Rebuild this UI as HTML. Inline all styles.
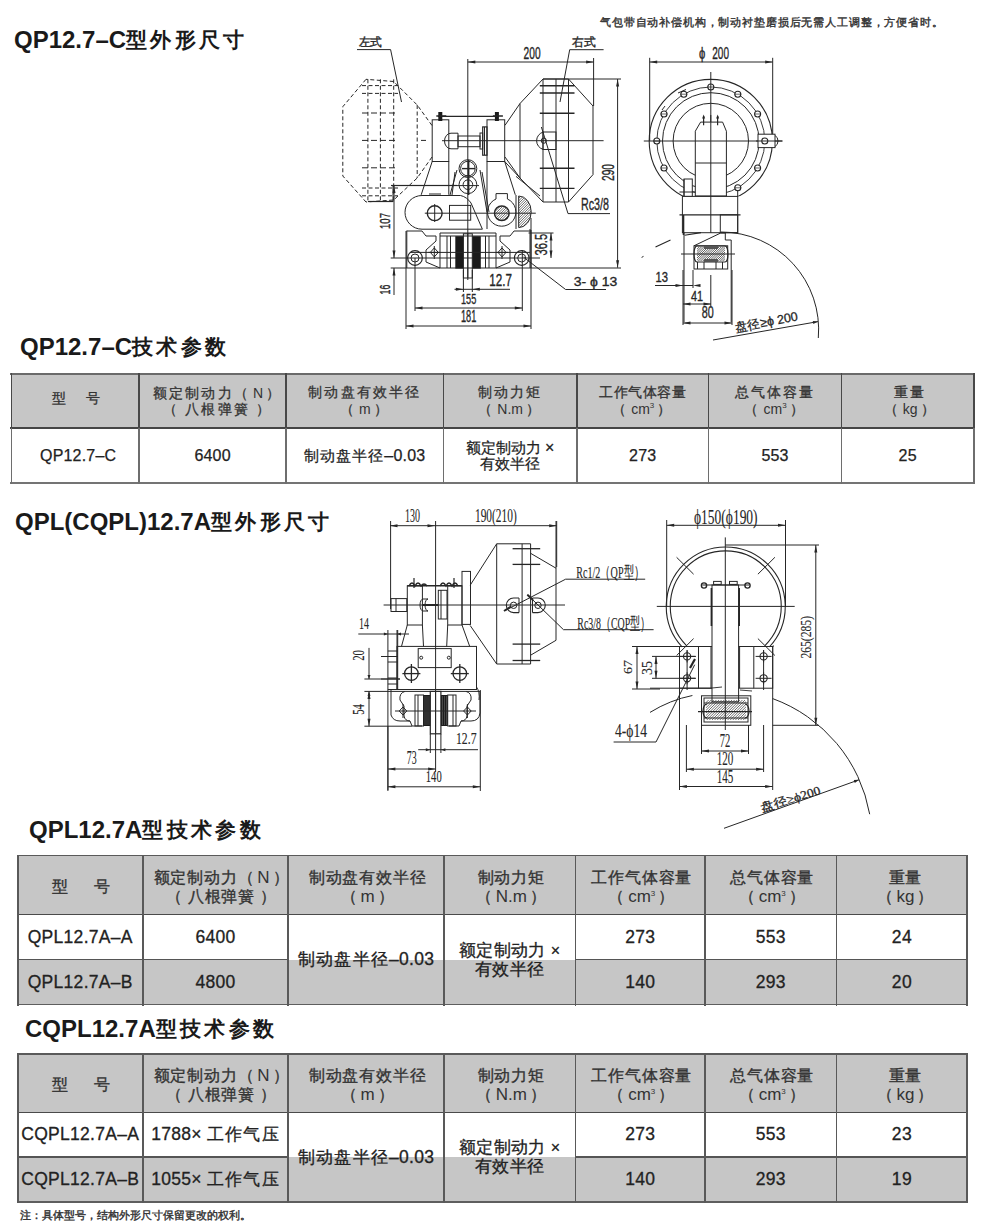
<!DOCTYPE html>
<html><head><meta charset="utf-8"><style>
html,body{margin:0;padding:0;background:#fff;width:990px;height:1228px;overflow:hidden;position:relative;font-family:"Liberation Sans",sans-serif;color:#2a2a2a}
.t{position:absolute;white-space:nowrap}
.h1{font-size:24px;font-weight:bold;color:#1a1a1a;letter-spacing:0px}
.h1 span{font-size:21px;letter-spacing:3.3px;vertical-align:1px}
.c{position:absolute;display:flex;align-items:center;justify-content:center;text-align:center;white-space:nowrap}
.ln{position:absolute;background:#646464}
.bg{position:absolute;background:#c6c6c6}
.hd1{font-size:13.5px;font-weight:500;-webkit-text-stroke:0.3px #333;letter-spacing:2.2px;color:#333;line-height:16px}
.hd2{font-size:16px;font-weight:500;-webkit-text-stroke:0.35px #333;letter-spacing:0.8px;color:#333;line-height:19px}
.d1{font-size:16px;letter-spacing:0.2px;color:#222;-webkit-text-stroke:0.25px #222;line-height:16px}
.d2{font-size:17.5px;letter-spacing:0.3px;color:#222;-webkit-text-stroke:0.3px #222;line-height:19px}
.d1 .cj{font-size:15px;letter-spacing:1px}
.d2 .cj{font-size:16.5px;letter-spacing:1.2px}
.d1 .cj2{font-size:15px;letter-spacing:0px}
.d2 .cj2{font-size:16.5px;letter-spacing:0.4px}
.xx{font-size:16px}
.hd1 .tight{letter-spacing:0.6px}
.nb{font-weight:normal;letter-spacing:0;margin:0 3px}
.hd2 .nb{font-size:17px;-webkit-text-stroke:0}
.hd1 .nb{font-size:14px;-webkit-text-stroke:0}
sup{font-size:8px;vertical-align:6px;line-height:0;letter-spacing:0}
svg{position:absolute;left:0;top:0;overflow:visible}
</style></head><body>
<svg width="990" height="1228" viewBox="0 0 990 1228" style="position:absolute;left:0;top:0"><text x="358.5" y="45.7" font-family="Liberation Sans" font-weight="normal" font-size="11.5" fill="#262626" stroke="#262626" stroke-width="0.35" textLength="23.5" lengthAdjust="spacingAndGlyphs">左式</text><line x1="357.0" y1="49.6" x2="390.6" y2="49.6" stroke="#262626" stroke-width="1"/><line x1="390.6" y1="49.6" x2="401.5" y2="102.0" stroke="#262626" stroke-width="1"/><text x="572.0" y="46.0" font-family="Liberation Sans" font-weight="normal" font-size="11.5" fill="#262626" stroke="#262626" stroke-width="0.35" textLength="23.6" lengthAdjust="spacingAndGlyphs">右式</text><line x1="569.7" y1="49.7" x2="603.6" y2="49.7" stroke="#262626" stroke-width="1"/><line x1="569.7" y1="49.7" x2="560.0" y2="102.0" stroke="#262626" stroke-width="1"/><text x="523.6" y="59.0" font-family="Liberation Sans" font-weight="normal" font-size="15.8" fill="#262626" stroke="#262626" stroke-width="0.35" textLength="17.0" lengthAdjust="spacingAndGlyphs">200</text><line x1="467.8" y1="59.0" x2="467.8" y2="280.0" stroke="#262626" stroke-width="1"/><line x1="467.8" y1="62.0" x2="593.6" y2="62.0" stroke="#262626" stroke-width="1"/><polygon points="467.8,62.0 475.3,60.5 475.3,63.5" fill="#262626"/><polygon points="593.6,62.0 586.1,63.5 586.1,60.5" fill="#262626"/><line x1="593.6" y1="58.0" x2="593.6" y2="106.0" stroke="#262626" stroke-width="1"/><text transform="translate(614.0,181.0) rotate(-90)" x="0" y="0" font-family="Liberation Sans" font-weight="normal" font-size="16.9" fill="#262626" stroke="#262626" stroke-width="0.35" textLength="17.0" lengthAdjust="spacingAndGlyphs">290</text><line x1="617.6" y1="79.0" x2="617.6" y2="267.7" stroke="#262626" stroke-width="1"/><polygon points="617.6,79.0 619.1,86.5 616.1,86.5" fill="#262626"/><polygon points="617.6,267.7 616.1,260.2 619.1,260.2" fill="#262626"/><line x1="543.0" y1="79.0" x2="621.0" y2="79.0" stroke="#262626" stroke-width="1"/><line x1="390.7" y1="268.0" x2="621.0" y2="268.0" stroke="#262626" stroke-width="1"/><text x="581.0" y="210.4" font-family="Liberation Sans" font-weight="normal" font-size="17.2" fill="#262626" stroke="#262626" stroke-width="0.35" textLength="28.0" lengthAdjust="spacingAndGlyphs">Rc3/8</text><line x1="568.0" y1="213.6" x2="610.0" y2="213.6" stroke="#262626" stroke-width="1"/><line x1="568.0" y1="213.6" x2="541.4" y2="127.0" stroke="#262626" stroke-width="1"/><text transform="translate(390.0,229.0) rotate(-90)" x="0" y="0" font-family="Liberation Sans" font-weight="normal" font-size="15.3" fill="#262626" stroke="#262626" stroke-width="0.35" textLength="16.0" lengthAdjust="spacingAndGlyphs">107</text><line x1="394.0" y1="185.4" x2="394.0" y2="258.0" stroke="#262626" stroke-width="1"/><polygon points="394.0,185.4 395.5,192.9 392.5,192.9" fill="#262626"/><polygon points="394.0,258.0 392.5,250.5 395.5,250.5" fill="#262626"/><line x1="391.0" y1="185.4" x2="457.0" y2="185.4" stroke="#262626" stroke-width="1"/><text transform="translate(390.0,294.4) rotate(-90)" x="0" y="0" font-family="Liberation Sans" font-weight="normal" font-size="15.3" fill="#262626" stroke="#262626" stroke-width="0.35" textLength="9.7" lengthAdjust="spacingAndGlyphs">16</text><line x1="394.0" y1="268.0" x2="394.0" y2="295.0" stroke="#262626" stroke-width="1"/><polygon points="394.0,268.0 395.5,275.5 392.5,275.5" fill="#262626"/><line x1="390.7" y1="258.0" x2="540.0" y2="258.0" stroke="#262626" stroke-width="1"/><text transform="translate(547.0,255.6) rotate(-90)" x="0" y="0" font-family="Liberation Sans" font-weight="normal" font-size="17.1" fill="#262626" stroke="#262626" stroke-width="0.35" textLength="21.8" lengthAdjust="spacingAndGlyphs">36.5</text><line x1="551.0" y1="233.0" x2="551.0" y2="258.0" stroke="#262626" stroke-width="1"/><polygon points="551.0,233.0 552.5,240.5 549.5,240.5" fill="#262626"/><polygon points="551.0,258.0 549.5,250.5 552.5,250.5" fill="#262626"/><line x1="528.5" y1="233.0" x2="553.5" y2="233.0" stroke="#262626" stroke-width="1"/><text x="573.7" y="286.3" font-family="Liberation Sans" font-weight="normal" font-size="13.5" fill="#262626" stroke="#262626" stroke-width="0.35" textLength="43.6" lengthAdjust="spacingAndGlyphs">3- ϕ 13</text><line x1="565.6" y1="289.5" x2="606.0" y2="289.5" stroke="#262626" stroke-width="1"/><line x1="565.6" y1="289.5" x2="523.6" y2="257.2" stroke="#262626" stroke-width="1"/><text x="489.3" y="285.5" font-family="Liberation Sans" font-weight="normal" font-size="16.0" fill="#262626" stroke="#262626" stroke-width="0.35" textLength="22.7" lengthAdjust="spacingAndGlyphs">12.7</text><line x1="454.5" y1="289.3" x2="510.0" y2="289.3" stroke="#262626" stroke-width="1"/><polygon points="463.4,289.3 455.9,290.8 455.9,287.8" fill="#262626"/><polygon points="472.3,289.3 479.8,287.8 479.8,290.8" fill="#262626"/><line x1="463.4" y1="270.0" x2="463.4" y2="292.0" stroke="#262626" stroke-width="1"/><line x1="472.3" y1="270.0" x2="472.3" y2="292.0" stroke="#262626" stroke-width="1"/><text x="461.0" y="304.0" font-family="Liberation Sans" font-weight="normal" font-size="14.7" fill="#262626" stroke="#262626" stroke-width="0.35" textLength="15.3" lengthAdjust="spacingAndGlyphs">155</text><line x1="415.0" y1="308.0" x2="522.3" y2="308.0" stroke="#262626" stroke-width="1"/><polygon points="415.0,308.0 422.5,306.5 422.5,309.5" fill="#262626"/><polygon points="522.3,308.0 514.8,309.5 514.8,306.5" fill="#262626"/><text x="461.0" y="322.0" font-family="Liberation Sans" font-weight="normal" font-size="16.1" fill="#262626" stroke="#262626" stroke-width="0.35" textLength="15.3" lengthAdjust="spacingAndGlyphs">181</text><line x1="406.0" y1="326.0" x2="531.0" y2="326.0" stroke="#262626" stroke-width="1"/><polygon points="406.0,326.0 413.5,324.5 413.5,327.5" fill="#262626"/><polygon points="531.0,326.0 523.5,327.5 523.5,324.5" fill="#262626"/><line x1="415.0" y1="258.0" x2="415.0" y2="311.0" stroke="#262626" stroke-width="1"/><line x1="522.3" y1="250.0" x2="522.3" y2="311.0" stroke="#262626" stroke-width="1"/><line x1="406.0" y1="231.0" x2="406.0" y2="329.0" stroke="#262626" stroke-width="1"/><line x1="531.0" y1="218.0" x2="531.0" y2="329.0" stroke="#262626" stroke-width="1"/><polyline points="432.0,125.5 417.2,105.0 393.7,81.5 366.0,79.3" fill="none" stroke="#262626" stroke-width="1" stroke-dasharray="4,2.5"/><polyline points="366.0,79.3 342.8,106.7 342.8,176.0 366.0,202.0" fill="none" stroke="#262626" stroke-width="1" stroke-dasharray="4,2.5"/><polyline points="432.0,157.0 417.2,178.0 393.7,200.0 366.0,202.0" fill="none" stroke="#262626" stroke-width="1" stroke-dasharray="4,2.5"/><line x1="417.2" y1="105.0" x2="417.2" y2="178.0" stroke="#262626" stroke-width="1" stroke-dasharray="4,2.5"/><line x1="367.9" y1="79.3" x2="367.9" y2="202.0" stroke="#262626" stroke-width="1" stroke-dasharray="4,2.5"/><line x1="380.4" y1="79.3" x2="380.4" y2="202.0" stroke="#262626" stroke-width="1" stroke-dasharray="4,2.5"/><line x1="393.7" y1="79.3" x2="393.7" y2="202.0" stroke="#262626" stroke-width="1" stroke-dasharray="4,2.5"/><line x1="362.0" y1="85.6" x2="398.0" y2="85.6" stroke="#262626" stroke-width="1" stroke-dasharray="4,2.5"/><line x1="362.0" y1="93.4" x2="398.0" y2="93.4" stroke="#262626" stroke-width="1" stroke-dasharray="4,2.5"/><line x1="362.0" y1="188.0" x2="398.0" y2="188.0" stroke="#262626" stroke-width="1" stroke-dasharray="4,2.5"/><line x1="362.0" y1="195.8" x2="398.0" y2="195.8" stroke="#262626" stroke-width="1" stroke-dasharray="4,2.5"/><line x1="362.0" y1="113.0" x2="398.0" y2="113.0" stroke="#262626" stroke-width="1" stroke-dasharray="6,3"/><line x1="362.0" y1="140.4" x2="398.0" y2="140.4" stroke="#262626" stroke-width="1" stroke-dasharray="6,3"/><line x1="362.0" y1="167.8" x2="398.0" y2="167.8" stroke="#262626" stroke-width="1" stroke-dasharray="6,3"/><line x1="421.0" y1="140.4" x2="426.0" y2="140.4" stroke="#262626" stroke-width="1"/><line x1="368.0" y1="201.5" x2="393.0" y2="201.5" stroke="#262626" stroke-width="1.2"/><line x1="393.0" y1="186.0" x2="393.0" y2="202.0" stroke="#262626" stroke-width="1"/><polyline points="505.0,125.3 520.0,103.5 543.0,79.0 568.5,79.0 593.0,106.0 593.0,174.6 568.5,202.0 543.0,202.0 520.0,178.0 505.0,157.0" fill="none" stroke="#262626" stroke-width="1"/><line x1="520.0" y1="103.5" x2="520.0" y2="178.0" stroke="#262626" stroke-width="1"/><line x1="543.0" y1="79.0" x2="543.0" y2="202.0" stroke="#262626" stroke-width="1"/><line x1="556.0" y1="79.0" x2="556.0" y2="202.0" stroke="#262626" stroke-width="1"/><line x1="568.5" y1="79.0" x2="568.5" y2="202.0" stroke="#262626" stroke-width="1"/><line x1="539.8" y1="85.7" x2="574.5" y2="85.7" stroke="#262626" stroke-width="1.4"/><line x1="539.8" y1="93.0" x2="574.5" y2="93.0" stroke="#262626" stroke-width="1.4"/><line x1="539.8" y1="113.2" x2="574.5" y2="113.2" stroke="#262626" stroke-width="1.4"/><line x1="539.8" y1="168.2" x2="574.5" y2="168.2" stroke="#262626" stroke-width="1.4"/><line x1="539.8" y1="188.4" x2="574.5" y2="188.4" stroke="#262626" stroke-width="1.4"/><line x1="442.0" y1="140.7" x2="603.6" y2="140.7" stroke="#262626" stroke-width="1"/><path d="M543.5,132 A9,9 0 0,0 543.5,149.5" fill="none" stroke="#262626" stroke-width="1"/><circle cx="543.8" cy="140.7" r="2.6" fill="none" stroke="#262626" stroke-width="1"/><rect x="543.0" y="132.0" width="13.0" height="17.5" fill="none" stroke="#262626" stroke-width="1"/><rect x="432.2" y="119.8" width="16.6" height="41.7" fill="none" stroke="#262626" stroke-width="1"/><rect x="487.0" y="119.8" width="17.7" height="41.7" fill="none" stroke="#262626" stroke-width="1"/><line x1="438.0" y1="116.3" x2="499.0" y2="116.3" stroke="#262626" stroke-width="1.2"/><rect x="438.3" y="112.0" width="4.0" height="9.0" fill="#1a1a1a"/><line x1="436.3" y1="116.0" x2="446.3" y2="116.0" stroke="#262626" stroke-width="1.5"/><rect x="494.9" y="112.0" width="4.0" height="9.0" fill="#1a1a1a"/><line x1="492.9" y1="116.0" x2="502.9" y2="116.0" stroke="#262626" stroke-width="1.5"/><path d="M458,133.2 L451,133.2 A6.5,7.8 0 0,0 451,148.8 L458,148.8 Z" fill="none" stroke="#262626" stroke-width="1"/><rect x="458.0" y="136.0" width="22.0" height="10.7" fill="none" stroke="#262626" stroke-width="1"/><rect x="480.0" y="133.0" width="2.7" height="16.0" fill="none" stroke="#262626" stroke-width="1"/><rect x="482.7" y="126.9" width="4.3" height="28.3" fill="none" stroke="#262626" stroke-width="1.2"/><line x1="484.5" y1="127.0" x2="484.5" y2="155.0" stroke="#262626" stroke-width="1"/><line x1="432.2" y1="161.5" x2="421.2" y2="194.8" stroke="#262626" stroke-width="1"/><line x1="448.8" y1="161.5" x2="448.8" y2="194.8" stroke="#262626" stroke-width="1"/><line x1="504.7" y1="161.5" x2="515.3" y2="194.8" stroke="#262626" stroke-width="1"/><line x1="487.0" y1="161.5" x2="487.0" y2="229.0" stroke="#262626" stroke-width="1"/><line x1="391.0" y1="185.6" x2="479.0" y2="185.6" stroke="#262626" stroke-width="1"/><circle cx="467.9" cy="168.6" r="8.9" fill="none" stroke="#262626" stroke-width="1"/><circle cx="467.9" cy="168.6" r="7.3" fill="none" stroke="#262626" stroke-width="1"/><circle cx="467.9" cy="184.7" r="8.9" fill="none" stroke="#262626" stroke-width="1"/><circle cx="467.9" cy="184.7" r="4.8" fill="none" stroke="#262626" stroke-width="1"/><line x1="457.0" y1="170.0" x2="450.0" y2="195.0" stroke="#262626" stroke-width="1"/><line x1="455.0" y1="172.0" x2="452.0" y2="195.0" stroke="#262626" stroke-width="1"/><line x1="480.0" y1="170.0" x2="487.0" y2="212.0" stroke="#262626" stroke-width="1"/><line x1="482.0" y1="172.0" x2="489.0" y2="212.0" stroke="#262626" stroke-width="1"/><line x1="462.0" y1="168.6" x2="475.0" y2="168.6" stroke="#262626" stroke-width="1.4"/><line x1="468.6" y1="160.0" x2="468.6" y2="195.0" stroke="#262626" stroke-width="1.6"/><path d="M422,195.5 L460.6,195.5 Q467,197 471,203 L482.4,229.2 L422,229.2 A17,16.85 0 0,1 422,195.5 Z" fill="none" stroke="#262626" stroke-width="1"/><line x1="429.0" y1="194.0" x2="441.0" y2="194.0" stroke="#777" stroke-width="1.6"/><circle cx="434.7" cy="213.2" r="7.4" fill="none" stroke="#262626" stroke-width="1.4"/><line x1="434.7" y1="204.0" x2="434.7" y2="222.0" stroke="#262626" stroke-width="1"/><line x1="424.8" y1="213.2" x2="535.8" y2="213.2" stroke="#262626" stroke-width="1"/><rect x="449.5" y="205.4" width="21.2" height="14.8" fill="none" stroke="#262626" stroke-width="1"/><path d="M496,199 L496,193.6 L507.4,193.6 L507.4,199 A14.2,14.2 0 1,1 496,199 Z" fill="none" stroke="#262626" stroke-width="1"/><clipPath id="cp1"><circle cx="501.8" cy="213.2" r="7.3"/></clipPath><clipPath id="cp2"><path d="M518.7,196 A12.5,15.8 0 0,1 518.7,227.6 Z"/></clipPath><circle cx="501.8" cy="213.2" r="7.3" fill="none" stroke="#262626" stroke-width="1.5"/><g clip-path="url(#cp1)"><line x1="494.0" y1="205.0" x2="478.0" y2="221.0" stroke="#333" stroke-width="0.7"/><line x1="496.5" y1="205.0" x2="480.5" y2="221.0" stroke="#333" stroke-width="0.7"/><line x1="499.0" y1="205.0" x2="483.0" y2="221.0" stroke="#333" stroke-width="0.7"/><line x1="501.5" y1="205.0" x2="485.5" y2="221.0" stroke="#333" stroke-width="0.7"/><line x1="504.0" y1="205.0" x2="488.0" y2="221.0" stroke="#333" stroke-width="0.7"/><line x1="506.5" y1="205.0" x2="490.5" y2="221.0" stroke="#333" stroke-width="0.7"/><line x1="509.0" y1="205.0" x2="493.0" y2="221.0" stroke="#333" stroke-width="0.7"/><line x1="511.5" y1="205.0" x2="495.5" y2="221.0" stroke="#333" stroke-width="0.7"/><line x1="514.0" y1="205.0" x2="498.0" y2="221.0" stroke="#333" stroke-width="0.7"/><line x1="516.5" y1="205.0" x2="500.5" y2="221.0" stroke="#333" stroke-width="0.7"/><line x1="519.0" y1="205.0" x2="503.0" y2="221.0" stroke="#333" stroke-width="0.7"/><line x1="521.5" y1="205.0" x2="505.5" y2="221.0" stroke="#333" stroke-width="0.7"/><line x1="524.0" y1="205.0" x2="508.0" y2="221.0" stroke="#333" stroke-width="0.7"/><line x1="526.5" y1="205.0" x2="510.5" y2="221.0" stroke="#333" stroke-width="0.7"/></g><path d="M518.7,196 A12.5,15.8 0 0,1 518.7,227.6 Z" fill="none" stroke="#262626" stroke-width="1"/><g clip-path="url(#cp2)"><line x1="517.0" y1="195.0" x2="482.0" y2="230.0" stroke="#333" stroke-width="0.7"/><line x1="519.5" y1="195.0" x2="484.5" y2="230.0" stroke="#333" stroke-width="0.7"/><line x1="522.0" y1="195.0" x2="487.0" y2="230.0" stroke="#333" stroke-width="0.7"/><line x1="524.5" y1="195.0" x2="489.5" y2="230.0" stroke="#333" stroke-width="0.7"/><line x1="527.0" y1="195.0" x2="492.0" y2="230.0" stroke="#333" stroke-width="0.7"/><line x1="529.5" y1="195.0" x2="494.5" y2="230.0" stroke="#333" stroke-width="0.7"/><line x1="532.0" y1="195.0" x2="497.0" y2="230.0" stroke="#333" stroke-width="0.7"/><line x1="534.5" y1="195.0" x2="499.5" y2="230.0" stroke="#333" stroke-width="0.7"/><line x1="537.0" y1="195.0" x2="502.0" y2="230.0" stroke="#333" stroke-width="0.7"/><line x1="539.5" y1="195.0" x2="504.5" y2="230.0" stroke="#333" stroke-width="0.7"/><line x1="542.0" y1="195.0" x2="507.0" y2="230.0" stroke="#333" stroke-width="0.7"/><line x1="544.5" y1="195.0" x2="509.5" y2="230.0" stroke="#333" stroke-width="0.7"/><line x1="547.0" y1="195.0" x2="512.0" y2="230.0" stroke="#333" stroke-width="0.7"/><line x1="549.5" y1="195.0" x2="514.5" y2="230.0" stroke="#333" stroke-width="0.7"/><line x1="552.0" y1="195.0" x2="517.0" y2="230.0" stroke="#333" stroke-width="0.7"/><line x1="554.5" y1="195.0" x2="519.5" y2="230.0" stroke="#333" stroke-width="0.7"/><line x1="557.0" y1="195.0" x2="522.0" y2="230.0" stroke="#333" stroke-width="0.7"/><line x1="559.5" y1="195.0" x2="524.5" y2="230.0" stroke="#333" stroke-width="0.7"/><line x1="562.0" y1="195.0" x2="527.0" y2="230.0" stroke="#333" stroke-width="0.7"/><line x1="564.5" y1="195.0" x2="529.5" y2="230.0" stroke="#333" stroke-width="0.7"/><line x1="567.0" y1="195.0" x2="532.0" y2="230.0" stroke="#333" stroke-width="0.7"/><line x1="569.5" y1="195.0" x2="534.5" y2="230.0" stroke="#333" stroke-width="0.7"/></g><line x1="516.0" y1="195.0" x2="516.0" y2="229.0" stroke="#262626" stroke-width="1"/><line x1="530.0" y1="229.0" x2="530.0" y2="268.0" stroke="#262626" stroke-width="1"/><path d="M504.7,161.5 L520,178" fill="none" stroke="#262626" stroke-width="1"/><path d="M516,176.4 Q528,186 540,196" fill="none" stroke="#262626" stroke-width="1"/><path d="M406.8,230.6 L406.8,268 M406.8,231 L422,231 L426,236 L436,236 L436,241 L426,250 L426,262 L440,268" fill="none" stroke="#262626" stroke-width="1"/><path d="M531,230 L531,268 M531,231 L514,231 L510,236 L500,236 L500,241 L510,250 L510,262 L496,268" fill="none" stroke="#262626" stroke-width="1"/><circle cx="415.0" cy="258.0" r="7.3" fill="none" stroke="#262626" stroke-width="1.2"/><circle cx="415.0" cy="258.0" r="4.0" fill="none" stroke="#262626" stroke-width="1"/><circle cx="521.7" cy="258.0" r="7.3" fill="none" stroke="#262626" stroke-width="1.2"/><circle cx="521.7" cy="258.0" r="4.0" fill="none" stroke="#262626" stroke-width="1"/><path d="M440,268 L440,233 L496,233 L496,268" fill="none" stroke="#262626" stroke-width="1"/><line x1="447.0" y1="236.0" x2="447.0" y2="268.0" stroke="#262626" stroke-width="1"/><line x1="450.5" y1="236.0" x2="450.5" y2="268.0" stroke="#262626" stroke-width="1"/><line x1="489.0" y1="236.0" x2="489.0" y2="268.0" stroke="#262626" stroke-width="1"/><line x1="485.5" y1="236.0" x2="485.5" y2="268.0" stroke="#262626" stroke-width="1"/><line x1="440.0" y1="236.0" x2="496.0" y2="236.0" stroke="#262626" stroke-width="1"/><rect x="455.3" y="236.2" width="8.1" height="32.4" fill="#1a1a1a"/><rect x="472.3" y="236.2" width="8.5" height="32.4" fill="#1a1a1a"/><rect x="463.4" y="233.8" width="8.9" height="44.2" fill="none" stroke="#262626" stroke-width="1"/><line x1="467.8" y1="233.0" x2="467.8" y2="278.0" stroke="#262626" stroke-width="1"/><path d="M434.3,247.9 L438.3,252.4 L434.3,256.9 L430.3,252.4 Z" fill="none" stroke="#262626" stroke-width="1"/><line x1="428.3" y1="252.4" x2="440.3" y2="252.4" stroke="#262626" stroke-width="1"/><line x1="434.3" y1="246.0" x2="434.3" y2="259.0" stroke="#262626" stroke-width="1"/><path d="M502,247.9 L506,252.4 L502,256.9 L498,252.4 Z" fill="none" stroke="#262626" stroke-width="1"/><line x1="496.0" y1="252.4" x2="508.0" y2="252.4" stroke="#262626" stroke-width="1"/><line x1="502.0" y1="246.0" x2="502.0" y2="259.0" stroke="#262626" stroke-width="1"/><line x1="410.0" y1="252.4" x2="530.0" y2="252.4" stroke="#262626" stroke-width="1"/></svg>
<svg width="990" height="1228" viewBox="0 0 990 1228" style="position:absolute;left:0;top:0"><text x="699.0" y="59.0" font-family="Liberation Sans" font-weight="normal" font-size="16.2" fill="#262626" stroke="#262626" stroke-width="0.35" textLength="6.3" lengthAdjust="spacingAndGlyphs">ϕ</text><text x="712.3" y="59.0" font-family="Liberation Sans" font-weight="normal" font-size="16.9" fill="#262626" stroke="#262626" stroke-width="0.35" textLength="16.7" lengthAdjust="spacingAndGlyphs">200</text><line x1="649.7" y1="62.0" x2="772.7" y2="62.0" stroke="#262626" stroke-width="1"/><polygon points="649.7,62.0 657.2,60.5 657.2,63.5" fill="#262626"/><polygon points="772.7,62.0 765.2,63.5 765.2,60.5" fill="#262626"/><line x1="649.7" y1="57.8" x2="649.7" y2="141.0" stroke="#262626" stroke-width="1"/><line x1="772.7" y1="57.8" x2="772.7" y2="141.0" stroke="#262626" stroke-width="1"/><circle cx="710.8" cy="141.0" r="61.6" fill="none" stroke="#262626" stroke-width="1.1"/><circle cx="710.8" cy="141.0" r="54.0" fill="none" stroke="#262626" stroke-width="0.9"/><circle cx="710.8" cy="141.0" r="48.3" fill="none" stroke="#262626" stroke-width="1"/><circle cx="710.8" cy="141.0" r="37.7" fill="none" stroke="#262626" stroke-width="1"/><circle cx="764.8" cy="141.0" r="3.0" fill="#fff" stroke="#262626" stroke-width="1.1"/><line x1="761.3" y1="141.0" x2="768.3" y2="141.0" stroke="#262626" stroke-width="0.7"/><circle cx="757.6" cy="114.0" r="3.0" fill="#fff" stroke="#262626" stroke-width="1.1"/><line x1="754.1" y1="114.0" x2="761.1" y2="114.0" stroke="#262626" stroke-width="0.7"/><circle cx="737.8" cy="94.2" r="3.0" fill="#fff" stroke="#262626" stroke-width="1.1"/><line x1="734.3" y1="94.2" x2="741.3" y2="94.2" stroke="#262626" stroke-width="0.7"/><circle cx="710.8" cy="87.0" r="3.0" fill="#fff" stroke="#262626" stroke-width="1.1"/><line x1="707.3" y1="87.0" x2="714.3" y2="87.0" stroke="#262626" stroke-width="0.7"/><circle cx="683.8" cy="94.2" r="3.0" fill="#fff" stroke="#262626" stroke-width="1.1"/><line x1="680.3" y1="94.2" x2="687.3" y2="94.2" stroke="#262626" stroke-width="0.7"/><circle cx="664.0" cy="114.0" r="3.0" fill="#fff" stroke="#262626" stroke-width="1.1"/><line x1="660.5" y1="114.0" x2="667.5" y2="114.0" stroke="#262626" stroke-width="0.7"/><circle cx="656.8" cy="141.0" r="3.0" fill="#fff" stroke="#262626" stroke-width="1.1"/><line x1="653.3" y1="141.0" x2="660.3" y2="141.0" stroke="#262626" stroke-width="0.7"/><circle cx="664.0" cy="168.0" r="3.0" fill="#fff" stroke="#262626" stroke-width="1.1"/><line x1="660.5" y1="168.0" x2="667.5" y2="168.0" stroke="#262626" stroke-width="0.7"/><circle cx="737.8" cy="187.8" r="3.0" fill="#fff" stroke="#262626" stroke-width="1.1"/><line x1="734.3" y1="187.8" x2="741.3" y2="187.8" stroke="#262626" stroke-width="0.7"/><circle cx="757.6" cy="168.0" r="3.0" fill="#fff" stroke="#262626" stroke-width="1.1"/><line x1="754.1" y1="168.0" x2="761.1" y2="168.0" stroke="#262626" stroke-width="0.7"/><line x1="678.0" y1="93.0" x2="686.0" y2="89.5" stroke="#262626" stroke-width="1"/><line x1="662.0" y1="110.0" x2="665.0" y2="106.0" stroke="#262626" stroke-width="1"/><line x1="643.8" y1="141.0" x2="782.4" y2="141.0" stroke="#262626" stroke-width="1"/><rect x="758.0" y="134.2" width="17.0" height="13.4" fill="#fff" stroke="#262626" stroke-width="1"/><path d="M775,135.5 A5,6 0 0,1 775,146.5" fill="none" stroke="#262626" stroke-width="1"/><circle cx="764.8" cy="141.0" r="3.0" fill="none" stroke="#262626" stroke-width="1.1"/><line x1="756.0" y1="141.0" x2="782.4" y2="141.0" stroke="#262626" stroke-width="1"/><line x1="710.8" y1="72.0" x2="710.8" y2="232.7" stroke="#262626" stroke-width="1"/><rect x="640" y="196.4" width="140" height="12" fill="#fff"/><rect x="684.0" y="179.0" width="8.3" height="17.4" fill="#fff" stroke="#262626" stroke-width="1"/><line x1="679.5" y1="192.0" x2="696.0" y2="192.0" stroke="#262626" stroke-width="1"/><path d="M695.3,196.4 L695.3,131.2 L700.6,122.1 L722.6,122.1 L726.4,131.2 L726.4,196.4 Z" fill="#fff" stroke="#262626" stroke-width="1"/><line x1="703.6" y1="116.0" x2="703.6" y2="125.2" stroke="#262626" stroke-width="1.2"/><polygon points="703.6,114.5 705.1,118.5 702.1,118.5" fill="#262626"/><line x1="717.6" y1="116.0" x2="717.6" y2="125.2" stroke="#262626" stroke-width="1.2"/><polygon points="717.6,114.5 719.1,118.5 716.1,118.5" fill="#262626"/><line x1="695.3" y1="163.0" x2="726.4" y2="163.0" stroke="#262626" stroke-width="1"/><line x1="710.8" y1="115.0" x2="710.8" y2="232.7" stroke="#262626" stroke-width="1"/><line x1="695.0" y1="196.4" x2="727.0" y2="196.4" stroke="#262626" stroke-width="1.8"/><line x1="684.0" y1="196.4" x2="684.0" y2="179.0" stroke="#262626" stroke-width="1"/><line x1="737.7" y1="196.4" x2="737.7" y2="190.0" stroke="#262626" stroke-width="1"/><rect x="682.4" y="196.4" width="55.3" height="36.3" fill="#fff" stroke="#262626" stroke-width="1"/><line x1="679.5" y1="214.8" x2="740.5" y2="214.8" stroke="#262626" stroke-width="1.3"/><rect x="720.3" y="214.8" width="17.4" height="17.9" fill="none" stroke="#262626" stroke-width="1"/><line x1="683.5" y1="215.0" x2="683.5" y2="235.0" stroke="#262626" stroke-width="1.6"/><line x1="710.8" y1="196.0" x2="710.8" y2="232.7" stroke="#262626" stroke-width="1"/><line x1="695.3" y1="141.0" x2="726.4" y2="141.0" stroke="#262626" stroke-width="1"/><line x1="684.0" y1="232.7" x2="684.0" y2="322.0" stroke="#262626" stroke-width="1"/><path d="M694,245.8 L720.7,233 L725.3,233 L725.3,240 L731.2,240 L731.2,322" fill="none" stroke="#262626" stroke-width="1"/><rect x="694.0" y="245.8" width="33.7" height="23.2" fill="none" stroke="#262626" stroke-width="1"/><path d="M697,246 L725,246 A3,8 0 0,1 725,262 L697,262 A3,8 0 0,1 697,246 Z" fill="none" stroke="#262626" stroke-width="1.1"/><clipPath id="cp3"><rect x="697" y="247" width="28" height="14"/></clipPath><g clip-path="url(#cp3)"><line x1="697.0" y1="247.0" x2="683.0" y2="261.0" stroke="#333" stroke-width="0.8"/><line x1="699.2" y1="247.0" x2="685.2" y2="261.0" stroke="#333" stroke-width="0.8"/><line x1="701.4" y1="247.0" x2="687.4" y2="261.0" stroke="#333" stroke-width="0.8"/><line x1="703.6" y1="247.0" x2="689.6" y2="261.0" stroke="#333" stroke-width="0.8"/><line x1="705.8" y1="247.0" x2="691.8" y2="261.0" stroke="#333" stroke-width="0.8"/><line x1="708.0" y1="247.0" x2="694.0" y2="261.0" stroke="#333" stroke-width="0.8"/><line x1="710.2" y1="247.0" x2="696.2" y2="261.0" stroke="#333" stroke-width="0.8"/><line x1="712.4" y1="247.0" x2="698.4" y2="261.0" stroke="#333" stroke-width="0.8"/><line x1="714.6" y1="247.0" x2="700.6" y2="261.0" stroke="#333" stroke-width="0.8"/><line x1="716.8" y1="247.0" x2="702.8" y2="261.0" stroke="#333" stroke-width="0.8"/><line x1="719.0" y1="247.0" x2="705.0" y2="261.0" stroke="#333" stroke-width="0.8"/><line x1="721.2" y1="247.0" x2="707.2" y2="261.0" stroke="#333" stroke-width="0.8"/><line x1="723.4" y1="247.0" x2="709.4" y2="261.0" stroke="#333" stroke-width="0.8"/><line x1="725.6" y1="247.0" x2="711.6" y2="261.0" stroke="#333" stroke-width="0.8"/><line x1="727.8" y1="247.0" x2="713.8" y2="261.0" stroke="#333" stroke-width="0.8"/><line x1="730.0" y1="247.0" x2="716.0" y2="261.0" stroke="#333" stroke-width="0.8"/><line x1="732.2" y1="247.0" x2="718.2" y2="261.0" stroke="#333" stroke-width="0.8"/><line x1="734.4" y1="247.0" x2="720.4" y2="261.0" stroke="#333" stroke-width="0.8"/><line x1="736.6" y1="247.0" x2="722.6" y2="261.0" stroke="#333" stroke-width="0.8"/><line x1="738.8" y1="247.0" x2="724.8" y2="261.0" stroke="#333" stroke-width="0.8"/><line x1="741.0" y1="247.0" x2="727.0" y2="261.0" stroke="#333" stroke-width="0.8"/></g><rect x="704.0" y="246.0" width="14.0" height="3.0" fill="#555"/><rect x="704.0" y="259.0" width="14.0" height="3.0" fill="#555"/><line x1="681.0" y1="254.0" x2="735.0" y2="254.0" stroke="#262626" stroke-width="1.2"/><path d="M697.5,262 L697.5,269 M722.5,262 L722.5,269 M704,262 L704,269 M716,262 L716,269" fill="none" stroke="#262626" stroke-width="1"/><text x="655.5" y="282.0" font-family="Liberation Sans" font-weight="normal" font-size="14.9" fill="#262626" stroke="#262626" stroke-width="0.35" textLength="12.5" lengthAdjust="spacingAndGlyphs">13</text><line x1="655.0" y1="285.5" x2="693.0" y2="285.5" stroke="#262626" stroke-width="1"/><polygon points="683.0,285.5 675.5,287.0 675.5,284.0" fill="#262626"/><polygon points="693.0,285.5 700.5,284.0 700.5,287.0" fill="#262626"/><text x="690.9" y="300.5" font-family="Liberation Sans" font-weight="normal" font-size="15.3" fill="#262626" stroke="#262626" stroke-width="0.35" textLength="12.1" lengthAdjust="spacingAndGlyphs">41</text><line x1="683.0" y1="304.0" x2="711.0" y2="304.0" stroke="#262626" stroke-width="1"/><polygon points="683.0,304.0 690.5,302.5 690.5,305.5" fill="#262626"/><polygon points="711.0,304.0 703.5,305.5 703.5,302.5" fill="#262626"/><text x="701.8" y="317.7" font-family="Liberation Sans" font-weight="normal" font-size="16.5" fill="#262626" stroke="#262626" stroke-width="0.35" textLength="12.0" lengthAdjust="spacingAndGlyphs">80</text><line x1="683.0" y1="323.0" x2="732.0" y2="323.0" stroke="#262626" stroke-width="1"/><polygon points="683.0,323.0 690.5,321.5 690.5,324.5" fill="#262626"/><polygon points="732.0,323.0 724.5,324.5 724.5,321.5" fill="#262626"/><line x1="683.0" y1="270.0" x2="683.0" y2="325.0" stroke="#262626" stroke-width="1"/><line x1="693.0" y1="270.0" x2="693.0" y2="288.0" stroke="#262626" stroke-width="1"/><line x1="732.0" y1="270.0" x2="732.0" y2="325.0" stroke="#262626" stroke-width="1"/><line x1="710.8" y1="275.0" x2="710.8" y2="306.0" stroke="#262626" stroke-width="1"/><path d="M721,232 A97.6,97.6 0 0,1 818.3,338" fill="none" stroke="#262626" stroke-width="1"/><path d="M655.5,247 L670.5,240 M684.6,235.3 L701,232.6" fill="none" stroke="#262626" stroke-width="1.1"/><line x1="641.6" y1="257.4" x2="643.5" y2="256.4" stroke="#262626" stroke-width="1"/><text transform="translate(735.5,332.0) rotate(-10.5)" x="0" y="0" font-family="Liberation Sans" font-size="12.5" fill="#262626" stroke="#262626" stroke-width="0.3" textLength="64.0" lengthAdjust="spacingAndGlyphs">盘径≥ϕ 200</text><line x1="713.0" y1="340.0" x2="818.0" y2="321.6" stroke="#262626" stroke-width="1"/><polygon points="818.0,321.6 813.3,323.9 812.8,321.0" fill="#262626"/></svg>
<svg width="990" height="1228" viewBox="0 0 990 1228" style="position:absolute;left:0;top:0"><text x="405.0" y="521.7" font-family="Liberation Serif" font-weight="normal" font-size="18.7" fill="#262626" stroke="#262626" stroke-width="0.12" textLength="15.0" lengthAdjust="spacingAndGlyphs">130</text><text x="475.0" y="521.7" font-family="Liberation Serif" font-weight="normal" font-size="18.7" fill="#262626" stroke="#262626" stroke-width="0.12" textLength="41.7" lengthAdjust="spacingAndGlyphs">190(210)</text><line x1="390.0" y1="525.7" x2="556.7" y2="525.7" stroke="#262626" stroke-width="1"/><polygon points="390.0,525.7 397.5,524.2 397.5,527.2" fill="#262626"/><polygon points="435.0,525.7 427.5,527.2 427.5,524.2" fill="#262626"/><polygon points="556.7,525.7 549.2,527.2 549.2,524.2" fill="#262626"/><line x1="390.6" y1="521.0" x2="390.6" y2="609.0" stroke="#262626" stroke-width="1"/><line x1="556.7" y1="521.0" x2="556.7" y2="567.0" stroke="#262626" stroke-width="1"/><line x1="435.6" y1="521.0" x2="435.6" y2="772.0" stroke="#262626" stroke-width="1"/><polyline points="470.2,585.2 496.7,543.8 530.6,543.8" fill="none" stroke="#262626" stroke-width="1"/><polyline points="470.2,625.5 496.7,664.0 530.6,664.0" fill="none" stroke="#262626" stroke-width="1"/><line x1="496.7" y1="543.8" x2="496.7" y2="664.0" stroke="#262626" stroke-width="1"/><line x1="522.1" y1="543.8" x2="522.1" y2="664.0" stroke="#262626" stroke-width="1"/><line x1="530.6" y1="543.8" x2="530.6" y2="664.0" stroke="#262626" stroke-width="1"/><line x1="530.6" y1="553.3" x2="556.0" y2="568.2" stroke="#262626" stroke-width="1"/><line x1="530.6" y1="655.2" x2="556.0" y2="640.3" stroke="#262626" stroke-width="1"/><line x1="556.0" y1="521.0" x2="556.0" y2="640.3" stroke="#262626" stroke-width="1"/><line x1="512.6" y1="548.7" x2="540.2" y2="548.7" stroke="#262626" stroke-width="1.3"/><line x1="512.6" y1="564.4" x2="540.2" y2="564.4" stroke="#262626" stroke-width="1.3"/><line x1="512.6" y1="644.1" x2="540.2" y2="644.1" stroke="#262626" stroke-width="1.3"/><line x1="512.6" y1="660.5" x2="540.2" y2="660.5" stroke="#262626" stroke-width="1.3"/><path d="M519,598 L513.6,598 A7.3,7.3 0 0,0 513.6,612.6 L519,612.6 M532.5,598 L538,598 A7.3,7.3 0 0,1 538,612.6 L532.5,612.6" fill="none" stroke="#262626" stroke-width="1.1"/><line x1="519.0" y1="598.0" x2="519.0" y2="612.6" stroke="#262626" stroke-width="1"/><line x1="532.5" y1="598.0" x2="532.5" y2="612.6" stroke="#262626" stroke-width="1"/><circle cx="513.6" cy="605.3" r="3.2" fill="none" stroke="#262626" stroke-width="1"/><circle cx="538.0" cy="605.3" r="3.2" fill="none" stroke="#262626" stroke-width="1"/><text x="576.2" y="577.7" font-family="Liberation Serif" font-weight="normal" font-size="16.7" fill="#262626" stroke="#262626" stroke-width="0.12" textLength="67.9" lengthAdjust="spacingAndGlyphs">Rc1/2（QP型）</text><line x1="565.6" y1="579.2" x2="645.2" y2="579.2" stroke="#262626" stroke-width="1"/><line x1="565.6" y1="579.2" x2="505.0" y2="610.6" stroke="#262626" stroke-width="1"/><line x1="504.0" y1="611.0" x2="511.0" y2="606.5" stroke="#262626" stroke-width="2"/><text x="577.3" y="628.6" font-family="Liberation Serif" font-weight="normal" font-size="16.6" fill="#262626" stroke="#262626" stroke-width="0.12" textLength="73.2" lengthAdjust="spacingAndGlyphs">Rc3/8（CQP型）</text><line x1="563.5" y1="629.7" x2="653.6" y2="629.7" stroke="#262626" stroke-width="1"/><line x1="563.5" y1="629.7" x2="527.4" y2="594.7" stroke="#262626" stroke-width="1"/><line x1="533.0" y1="600.0" x2="527.4" y2="594.7" stroke="#262626" stroke-width="2"/><line x1="383.6" y1="605.0" x2="565.0" y2="605.0" stroke="#262626" stroke-width="1"/><rect x="462.0" y="571.4" width="8.5" height="53.0" fill="none" stroke="#262626" stroke-width="1"/><rect x="407.3" y="585.8" width="15.1" height="39.2" fill="none" stroke="#262626" stroke-width="1"/><rect x="447.7" y="585.8" width="14.3" height="39.2" fill="none" stroke="#262626" stroke-width="1"/><rect x="438.3" y="590.3" width="8.7" height="28.7" fill="none" stroke="#262626" stroke-width="1"/><line x1="441.0" y1="590.0" x2="441.0" y2="619.0" stroke="#262626" stroke-width="1"/><line x1="407.3" y1="585.8" x2="462.0" y2="585.8" stroke="#262626" stroke-width="1.4"/><path d="M409,586 Q412,580 415,586 Q418,580 421,586 Q424,582 427,586 M440,586 Q443,580 446,586 Q449,580 452,586 Q455,580 458,586" fill="none" stroke="#262626" stroke-width="1.4"/><line x1="414.0" y1="578.0" x2="414.0" y2="588.0" stroke="#262626" stroke-width="1.2"/><line x1="454.0" y1="578.0" x2="454.0" y2="588.0" stroke="#262626" stroke-width="1.2"/><rect x="391.0" y="598.6" width="15.8" height="12.9" fill="none" stroke="#262626" stroke-width="1"/><line x1="396.0" y1="598.6" x2="396.0" y2="611.5" stroke="#262626" stroke-width="1"/><path d="M423,599 A3,6 0 0,0 423,611 L428,611 A3,6 0 0,1 428,599 Z" fill="none" stroke="#262626" stroke-width="1"/><line x1="422.4" y1="605.0" x2="438.0" y2="605.0" stroke="#262626" stroke-width="2"/><line x1="407.3" y1="625.0" x2="401.5" y2="646.4" stroke="#262626" stroke-width="1"/><line x1="422.4" y1="625.0" x2="423.5" y2="646.4" stroke="#262626" stroke-width="1"/><line x1="462.0" y1="625.0" x2="469.7" y2="646.4" stroke="#262626" stroke-width="1"/><line x1="447.7" y1="625.0" x2="446.7" y2="646.4" stroke="#262626" stroke-width="1"/><rect x="397.0" y="646.4" width="79.5" height="43.1" fill="none" stroke="#262626" stroke-width="1"/><rect x="418.2" y="648.6" width="33.0" height="19.0" fill="none" stroke="#262626" stroke-width="1"/><circle cx="421.2" cy="657.7" r="1.5" fill="none" stroke="#262626" stroke-width="1"/><circle cx="448.8" cy="657.7" r="1.5" fill="none" stroke="#262626" stroke-width="1"/><circle cx="411.4" cy="673.6" r="6.8" fill="none" stroke="#262626" stroke-width="1.3"/><line x1="402.4" y1="673.6" x2="420.4" y2="673.6" stroke="#262626" stroke-width="1.3"/><line x1="411.4" y1="664.0" x2="411.4" y2="683.0" stroke="#262626" stroke-width="1.3"/><circle cx="459.8" cy="673.6" r="6.8" fill="none" stroke="#262626" stroke-width="1.3"/><line x1="450.8" y1="673.6" x2="468.8" y2="673.6" stroke="#262626" stroke-width="1.3"/><line x1="459.8" y1="664.0" x2="459.8" y2="683.0" stroke="#262626" stroke-width="1.3"/><path d="M476.5,687 Q480,692 479,700" fill="none" stroke="#262626" stroke-width="1"/><line x1="387.9" y1="630.0" x2="387.9" y2="790.0" stroke="#262626" stroke-width="1"/><line x1="397.7" y1="630.0" x2="397.7" y2="690.0" stroke="#262626" stroke-width="1"/><line x1="387.9" y1="651.0" x2="397.7" y2="651.0" stroke="#262626" stroke-width="1"/><line x1="387.9" y1="656.5" x2="397.7" y2="656.5" stroke="#262626" stroke-width="1"/><line x1="387.9" y1="662.0" x2="397.7" y2="662.0" stroke="#262626" stroke-width="1"/><line x1="387.9" y1="678.0" x2="397.7" y2="678.0" stroke="#262626" stroke-width="1"/><line x1="387.9" y1="684.0" x2="397.7" y2="684.0" stroke="#262626" stroke-width="1"/><line x1="387.9" y1="689.5" x2="397.7" y2="689.5" stroke="#262626" stroke-width="1"/><line x1="381.0" y1="656.5" x2="398.0" y2="656.5" stroke="#262626" stroke-width="1"/><line x1="381.0" y1="679.0" x2="400.0" y2="679.0" stroke="#262626" stroke-width="1"/><text x="359.0" y="629.0" font-family="Liberation Serif" font-weight="normal" font-size="17.2" fill="#262626" stroke="#262626" stroke-width="0.12" textLength="10.0" lengthAdjust="spacingAndGlyphs">14</text><line x1="358.3" y1="634.0" x2="409.0" y2="634.0" stroke="#262626" stroke-width="1"/><polygon points="387.9,634.0 383.9,635.5 383.9,632.5" fill="#262626"/><polygon points="397.0,634.0 401.0,632.5 401.0,635.5" fill="#262626"/><line x1="397.0" y1="630.0" x2="397.0" y2="690.0" stroke="#262626" stroke-width="1"/><text transform="translate(364.4,660.8) rotate(-90)" x="0" y="0" font-family="Liberation Serif" font-weight="normal" font-size="17.1" fill="#262626" stroke="#262626" stroke-width="0.12" textLength="10.8" lengthAdjust="spacingAndGlyphs">20</text><line x1="369.0" y1="647.9" x2="369.0" y2="679.0" stroke="#262626" stroke-width="1"/><polygon points="369.0,679.0 367.5,675.0 370.5,675.0" fill="#262626"/><polygon points="369.0,691.8 370.5,695.8 367.5,695.8" fill="#262626"/><line x1="364.4" y1="679.0" x2="400.0" y2="679.0" stroke="#262626" stroke-width="1"/><line x1="364.4" y1="691.4" x2="480.0" y2="691.4" stroke="#262626" stroke-width="1"/><text transform="translate(364.4,714.8) rotate(-90)" x="0" y="0" font-family="Liberation Serif" font-weight="normal" font-size="17.1" fill="#262626" stroke="#262626" stroke-width="0.12" textLength="10.8" lengthAdjust="spacingAndGlyphs">54</text><line x1="369.0" y1="691.4" x2="369.0" y2="726.2" stroke="#262626" stroke-width="1"/><polygon points="369.0,691.4 370.5,698.9 367.5,698.9" fill="#262626"/><polygon points="369.0,726.2 367.5,718.7 370.5,718.7" fill="#262626"/><line x1="364.4" y1="726.2" x2="412.0" y2="726.2" stroke="#262626" stroke-width="1"/><path d="M391,689 L391,715 Q393,721 400,721 L410,721 L412,726 L422,726 M449,726 L459,726 L461,721 L471,721 Q479,721 480,713 L480,691" fill="none" stroke="#262626" stroke-width="1"/><path d="M405,691.4 Q399,693 400,700 L404,706 L404,716 Q405,721 410,721" fill="none" stroke="#262626" stroke-width="1"/><path d="M466,691.4 Q472,693 471,700 L467,706 L467,716 Q466,721 461,721" fill="none" stroke="#262626" stroke-width="1"/><rect x="415.0" y="695.0" width="8.5" height="31.0" fill="none" stroke="#262626" stroke-width="1"/><rect x="447.7" y="695.0" width="8.3" height="31.0" fill="none" stroke="#262626" stroke-width="1"/><line x1="418.0" y1="695.0" x2="418.0" y2="726.0" stroke="#262626" stroke-width="1"/><line x1="453.0" y1="695.0" x2="453.0" y2="726.0" stroke="#262626" stroke-width="1"/><rect x="423.5" y="695.0" width="6.8" height="31.0" fill="#1a1a1a"/><rect x="440.9" y="695.0" width="6.8" height="31.0" fill="#1a1a1a"/><line x1="425.0" y1="696.0" x2="425.0" y2="725.0" stroke="#777" stroke-width="0.5"/><line x1="427.0" y1="696.0" x2="427.0" y2="725.0" stroke="#777" stroke-width="0.5"/><line x1="429.0" y1="696.0" x2="429.0" y2="725.0" stroke="#777" stroke-width="0.5"/><line x1="442.5" y1="696.0" x2="442.5" y2="725.0" stroke="#777" stroke-width="0.5"/><line x1="444.5" y1="696.0" x2="444.5" y2="725.0" stroke="#777" stroke-width="0.5"/><line x1="446.5" y1="696.0" x2="446.5" y2="725.0" stroke="#777" stroke-width="0.5"/><rect x="430.3" y="691.4" width="10.6" height="42.4" fill="none" stroke="#262626" stroke-width="1.2"/><line x1="435.6" y1="691.0" x2="435.6" y2="734.0" stroke="#262626" stroke-width="1"/><path d="M403,707 L406.8,711 L403,715 L399.2,711 Z" fill="none" stroke="#262626" stroke-width="1"/><line x1="403.0" y1="704.0" x2="403.0" y2="718.0" stroke="#262626" stroke-width="1"/><path d="M467.4,707 L471.2,711 L467.4,715 L463.59999999999997,711 Z" fill="none" stroke="#262626" stroke-width="1"/><line x1="467.4" y1="704.0" x2="467.4" y2="718.0" stroke="#262626" stroke-width="1"/><line x1="395.0" y1="711.0" x2="476.0" y2="711.0" stroke="#262626" stroke-width="1"/><text x="456.0" y="744.4" font-family="Liberation Serif" font-weight="normal" font-size="17.1" fill="#262626" stroke="#262626" stroke-width="0.12" textLength="20.5" lengthAdjust="spacingAndGlyphs">12.7</text><line x1="418.2" y1="749.7" x2="478.0" y2="749.7" stroke="#262626" stroke-width="1"/><polygon points="430.3,749.7 425.8,751.2 425.8,748.2" fill="#262626"/><polygon points="440.9,749.7 445.4,748.2 445.4,751.2" fill="#262626"/><line x1="430.3" y1="734.0" x2="430.3" y2="753.0" stroke="#262626" stroke-width="1"/><line x1="440.9" y1="734.0" x2="440.9" y2="753.0" stroke="#262626" stroke-width="1"/><text x="406.8" y="764.0" font-family="Liberation Serif" font-weight="normal" font-size="18.1" fill="#262626" stroke="#262626" stroke-width="0.12" textLength="9.9" lengthAdjust="spacingAndGlyphs">73</text><line x1="387.9" y1="769.0" x2="435.6" y2="769.0" stroke="#262626" stroke-width="1"/><polygon points="387.9,769.0 395.4,767.5 395.4,770.5" fill="#262626"/><polygon points="435.6,769.0 428.1,770.5 428.1,767.5" fill="#262626"/><text x="425.8" y="781.5" font-family="Liberation Serif" font-weight="normal" font-size="16.9" fill="#262626" stroke="#262626" stroke-width="0.12" textLength="15.9" lengthAdjust="spacingAndGlyphs">140</text><line x1="387.9" y1="786.8" x2="480.3" y2="786.8" stroke="#262626" stroke-width="1"/><polygon points="387.9,786.8 395.4,785.3 395.4,788.3" fill="#262626"/><polygon points="480.3,786.8 472.8,788.3 472.8,785.3" fill="#262626"/><line x1="480.3" y1="690.0" x2="480.3" y2="791.0" stroke="#262626" stroke-width="1"/><line x1="387.9" y1="726.0" x2="387.9" y2="791.0" stroke="#262626" stroke-width="1"/></svg>
<svg width="990" height="1228" viewBox="0 0 990 1228" style="position:absolute;left:0;top:0"><text x="694.0" y="523.8" font-family="Liberation Serif" font-weight="normal" font-size="20.0" fill="#262626" stroke="#262626" stroke-width="0.12" textLength="63.6" lengthAdjust="spacingAndGlyphs">ϕ150(ϕ190)</text><line x1="666.7" y1="525.3" x2="785.5" y2="525.3" stroke="#262626" stroke-width="1"/><polygon points="666.7,525.3 674.2,523.8 674.2,526.8" fill="#262626"/><polygon points="785.5,525.3 778.0,526.8 778.0,523.8" fill="#262626"/><line x1="666.7" y1="520.0" x2="666.7" y2="607.0" stroke="#262626" stroke-width="1"/><line x1="785.5" y1="520.0" x2="785.5" y2="607.0" stroke="#262626" stroke-width="1"/><path d="M769.3,647.0 A59.5,59.5 0 1,0 682.2,647.0" fill="none" stroke="#262626" stroke-width="1.1"/><path d="M765.0,645.6 A55.5,55.5 0 1,0 686.5,645.6" fill="none" stroke="#262626" stroke-width="1.1"/><line x1="757.9" y1="574.2" x2="774.9" y2="557.3" stroke="#262626" stroke-width="1"/><line x1="693.6" y1="574.2" x2="676.6" y2="557.3" stroke="#262626" stroke-width="1"/><line x1="693.6" y1="638.6" x2="676.6" y2="655.5" stroke="#262626" stroke-width="1"/><line x1="757.9" y1="638.6" x2="774.9" y2="655.5" stroke="#262626" stroke-width="1"/><line x1="656.8" y1="606.4" x2="794.7" y2="606.4" stroke="#262626" stroke-width="1"/><line x1="725.3" y1="537.4" x2="725.3" y2="730.0" stroke="#262626" stroke-width="1"/><rect x="712.0" y="585.0" width="26.6" height="116.8" fill="none" stroke="#262626" stroke-width="1"/><line x1="711.4" y1="588.0" x2="711.4" y2="626.0" stroke="#262626" stroke-width="1.6"/><line x1="739.2" y1="588.0" x2="739.2" y2="626.0" stroke="#262626" stroke-width="1.6"/><line x1="702.3" y1="585.0" x2="749.2" y2="585.0" stroke="#262626" stroke-width="1.2"/><circle cx="704.0" cy="585.5" r="2.6" fill="none" stroke="#262626" stroke-width="1.4"/><circle cx="747.5" cy="585.5" r="2.6" fill="none" stroke="#262626" stroke-width="1.4"/><rect x="713.6" y="581.4" width="7.6" height="3.0" fill="none" stroke="#262626" stroke-width="1"/><rect x="729.5" y="581.4" width="7.7" height="3.0" fill="none" stroke="#262626" stroke-width="1"/><line x1="712.0" y1="688.0" x2="722.0" y2="687.0" stroke="#262626" stroke-width="0.9"/><line x1="740.0" y1="690.0" x2="752.0" y2="691.0" stroke="#262626" stroke-width="0.9"/><rect x="679.5" y="646.5" width="19.0" height="41.7" fill="none" stroke="#262626" stroke-width="1"/><rect x="753.8" y="646.5" width="18.9" height="41.7" fill="none" stroke="#262626" stroke-width="1"/><line x1="698.5" y1="646.5" x2="712.0" y2="646.5" stroke="#262626" stroke-width="1"/><line x1="738.6" y1="646.5" x2="753.8" y2="646.5" stroke="#262626" stroke-width="1"/><line x1="698.5" y1="688.2" x2="712.0" y2="688.2" stroke="#262626" stroke-width="1"/><line x1="738.6" y1="688.2" x2="753.8" y2="688.2" stroke="#262626" stroke-width="1"/><line x1="711.0" y1="647.0" x2="711.0" y2="688.0" stroke="#262626" stroke-width="1"/><line x1="739.6" y1="647.0" x2="739.6" y2="688.0" stroke="#262626" stroke-width="1"/><line x1="650.0" y1="646.5" x2="712.0" y2="646.5" stroke="#262626" stroke-width="1"/><line x1="650.0" y1="688.2" x2="712.0" y2="688.2" stroke="#262626" stroke-width="1"/><circle cx="687.1" cy="656.4" r="3.6" fill="none" stroke="#262626" stroke-width="1.1"/><line x1="679.1" y1="656.4" x2="695.1" y2="656.4" stroke="#262626" stroke-width="1"/><line x1="687.1" y1="650.4" x2="687.1" y2="662.4" stroke="#262626" stroke-width="1"/><circle cx="687.1" cy="678.3" r="3.6" fill="none" stroke="#262626" stroke-width="1.1"/><line x1="679.1" y1="678.3" x2="695.1" y2="678.3" stroke="#262626" stroke-width="1"/><line x1="687.1" y1="672.3" x2="687.1" y2="684.3" stroke="#262626" stroke-width="1"/><circle cx="763.6" cy="656.4" r="3.6" fill="none" stroke="#262626" stroke-width="1.1"/><line x1="755.6" y1="656.4" x2="771.6" y2="656.4" stroke="#262626" stroke-width="1"/><line x1="763.6" y1="650.4" x2="763.6" y2="662.4" stroke="#262626" stroke-width="1"/><circle cx="763.6" cy="678.3" r="3.6" fill="none" stroke="#262626" stroke-width="1.1"/><line x1="755.6" y1="678.3" x2="771.6" y2="678.3" stroke="#262626" stroke-width="1"/><line x1="763.6" y1="672.3" x2="763.6" y2="684.3" stroke="#262626" stroke-width="1"/><line x1="687.1" y1="650.0" x2="687.1" y2="690.0" stroke="#262626" stroke-width="1"/><line x1="763.6" y1="650.0" x2="763.6" y2="690.0" stroke="#262626" stroke-width="1"/><line x1="652.0" y1="656.4" x2="696.0" y2="656.4" stroke="#262626" stroke-width="1"/><line x1="652.0" y1="678.3" x2="696.0" y2="678.3" stroke="#262626" stroke-width="1"/><line x1="679.5" y1="688.0" x2="679.5" y2="790.0" stroke="#262626" stroke-width="1"/><line x1="772.7" y1="646.0" x2="772.7" y2="790.0" stroke="#262626" stroke-width="1"/><line x1="772.7" y1="646.0" x2="774.0" y2="646.0" stroke="#262626" stroke-width="1"/><text transform="translate(632.0,674.0) rotate(-90)" x="0" y="0" font-family="Liberation Serif" font-weight="normal" font-size="13.2" fill="#262626" stroke="#262626" stroke-width="0.12" textLength="14.0" lengthAdjust="spacingAndGlyphs">67</text><line x1="637.0" y1="646.5" x2="637.0" y2="689.0" stroke="#262626" stroke-width="1"/><polygon points="637.0,646.5 638.5,654.0 635.5,654.0" fill="#262626"/><polygon points="637.0,689.0 635.5,681.5 638.5,681.5" fill="#262626"/><line x1="632.0" y1="646.5" x2="660.0" y2="646.5" stroke="#262626" stroke-width="1"/><line x1="632.0" y1="689.0" x2="660.0" y2="689.0" stroke="#262626" stroke-width="1"/><text transform="translate(651.5,675.0) rotate(-90)" x="0" y="0" font-family="Liberation Serif" font-weight="normal" font-size="14.9" fill="#262626" stroke="#262626" stroke-width="0.12" textLength="14.0" lengthAdjust="spacingAndGlyphs">35</text><line x1="656.0" y1="656.4" x2="656.0" y2="678.3" stroke="#262626" stroke-width="1"/><polygon points="656.0,656.4 657.5,663.9 654.5,663.9" fill="#262626"/><polygon points="656.0,678.3 654.5,670.8 657.5,670.8" fill="#262626"/><rect x="701.5" y="695.8" width="49.3" height="29.5" fill="none" stroke="#262626" stroke-width="1"/><rect x="704.0" y="698.0" width="44.0" height="24.0" fill="none" stroke="#262626" stroke-width="1"/><clipPath id="cp4"><rect x="706" y="700" width="40" height="20"/></clipPath><g clip-path="url(#cp4)"><line x1="706.0" y1="700.0" x2="686.0" y2="720.0" stroke="#333" stroke-width="0.7"/><line x1="708.6" y1="700.0" x2="688.6" y2="720.0" stroke="#333" stroke-width="0.7"/><line x1="711.2" y1="700.0" x2="691.2" y2="720.0" stroke="#333" stroke-width="0.7"/><line x1="713.8" y1="700.0" x2="693.8" y2="720.0" stroke="#333" stroke-width="0.7"/><line x1="716.4" y1="700.0" x2="696.4" y2="720.0" stroke="#333" stroke-width="0.7"/><line x1="719.0" y1="700.0" x2="699.0" y2="720.0" stroke="#333" stroke-width="0.7"/><line x1="721.6" y1="700.0" x2="701.6" y2="720.0" stroke="#333" stroke-width="0.7"/><line x1="724.2" y1="700.0" x2="704.2" y2="720.0" stroke="#333" stroke-width="0.7"/><line x1="726.8" y1="700.0" x2="706.8" y2="720.0" stroke="#333" stroke-width="0.7"/><line x1="729.4" y1="700.0" x2="709.4" y2="720.0" stroke="#333" stroke-width="0.7"/><line x1="732.0" y1="700.0" x2="712.0" y2="720.0" stroke="#333" stroke-width="0.7"/><line x1="734.6" y1="700.0" x2="714.6" y2="720.0" stroke="#333" stroke-width="0.7"/><line x1="737.2" y1="700.0" x2="717.2" y2="720.0" stroke="#333" stroke-width="0.7"/><line x1="739.8" y1="700.0" x2="719.8" y2="720.0" stroke="#333" stroke-width="0.7"/><line x1="742.4" y1="700.0" x2="722.4" y2="720.0" stroke="#333" stroke-width="0.7"/><line x1="745.0" y1="700.0" x2="725.0" y2="720.0" stroke="#333" stroke-width="0.7"/><line x1="747.6" y1="700.0" x2="727.6" y2="720.0" stroke="#333" stroke-width="0.7"/><line x1="750.2" y1="700.0" x2="730.2" y2="720.0" stroke="#333" stroke-width="0.7"/><line x1="752.8" y1="700.0" x2="732.8" y2="720.0" stroke="#333" stroke-width="0.7"/><line x1="755.4" y1="700.0" x2="735.4" y2="720.0" stroke="#333" stroke-width="0.7"/><line x1="758.0" y1="700.0" x2="738.0" y2="720.0" stroke="#333" stroke-width="0.7"/><line x1="760.6" y1="700.0" x2="740.6" y2="720.0" stroke="#333" stroke-width="0.7"/><line x1="763.2" y1="700.0" x2="743.2" y2="720.0" stroke="#333" stroke-width="0.7"/><line x1="765.8" y1="700.0" x2="745.8" y2="720.0" stroke="#333" stroke-width="0.7"/><line x1="768.4" y1="700.0" x2="748.4" y2="720.0" stroke="#333" stroke-width="0.7"/></g><line x1="704.0" y1="703.0" x2="748.0" y2="703.0" stroke="#262626" stroke-width="1"/><line x1="704.0" y1="718.0" x2="748.0" y2="718.0" stroke="#262626" stroke-width="1"/><line x1="698.0" y1="711.7" x2="752.0" y2="711.7" stroke="#262626" stroke-width="1.2"/><path d="M707,704 A4,7 0 0,0 707,718 M745,704 A4,7 0 0,1 745,718" fill="none" stroke="#262626" stroke-width="1.2"/><path d="M650,712.4 Q670,700 692.4,695.5" fill="none" stroke="#262626" stroke-width="1"/><path d="M772.7,698.6 A151,151 0 0,1 869.7,814.2" fill="none" stroke="#262626" stroke-width="1"/><text x="615.0" y="737.4" font-family="Liberation Serif" font-weight="normal" font-size="18.1" fill="#262626" stroke="#262626" stroke-width="0.12" textLength="32.0" lengthAdjust="spacingAndGlyphs">4-ϕ14</text><line x1="613.6" y1="742.0" x2="656.0" y2="742.0" stroke="#262626" stroke-width="1"/><line x1="656.0" y1="742.0" x2="694.7" y2="664.7" stroke="#262626" stroke-width="1"/><line x1="690.0" y1="668.0" x2="695.0" y2="659.0" stroke="#262626" stroke-width="2.2"/><text x="719.7" y="746.5" font-family="Liberation Serif" font-weight="normal" font-size="19.3" fill="#262626" stroke="#262626" stroke-width="0.12" textLength="10.6" lengthAdjust="spacingAndGlyphs">72</text><line x1="701.5" y1="751.0" x2="748.5" y2="751.0" stroke="#262626" stroke-width="1"/><polygon points="701.5,751.0 709.0,749.5 709.0,752.5" fill="#262626"/><polygon points="748.5,751.0 741.0,752.5 741.0,749.5" fill="#262626"/><line x1="701.5" y1="725.0" x2="701.5" y2="754.0" stroke="#262626" stroke-width="1"/><line x1="748.5" y1="725.0" x2="748.5" y2="754.0" stroke="#262626" stroke-width="1"/><text x="716.7" y="764.7" font-family="Liberation Serif" font-weight="normal" font-size="19.3" fill="#262626" stroke="#262626" stroke-width="0.12" textLength="16.6" lengthAdjust="spacingAndGlyphs">120</text><line x1="686.4" y1="769.2" x2="763.6" y2="769.2" stroke="#262626" stroke-width="1"/><polygon points="686.4,769.2 693.9,767.7 693.9,770.7" fill="#262626"/><polygon points="763.6,769.2 756.1,770.7 756.1,767.7" fill="#262626"/><line x1="686.4" y1="725.0" x2="686.4" y2="772.0" stroke="#262626" stroke-width="1"/><line x1="763.6" y1="725.0" x2="763.6" y2="772.0" stroke="#262626" stroke-width="1"/><text x="716.7" y="782.9" font-family="Liberation Serif" font-weight="normal" font-size="19.4" fill="#262626" stroke="#262626" stroke-width="0.12" textLength="16.6" lengthAdjust="spacingAndGlyphs">145</text><line x1="679.4" y1="786.5" x2="772.7" y2="786.5" stroke="#262626" stroke-width="1"/><polygon points="679.4,786.5 686.9,785.0 686.9,788.0" fill="#262626"/><polygon points="772.7,786.5 765.2,788.0 765.2,785.0" fill="#262626"/><text transform="translate(810.6,658.6) rotate(-90)" x="0" y="0" font-family="Liberation Serif" font-weight="normal" font-size="14.9" fill="#262626" stroke="#262626" stroke-width="0.12" textLength="42.6" lengthAdjust="spacingAndGlyphs">265(285)</text><line x1="815.8" y1="545.0" x2="815.8" y2="725.3" stroke="#262626" stroke-width="1"/><polygon points="815.8,545.0 817.3,552.5 814.3,552.5" fill="#262626"/><polygon points="815.8,725.3 814.3,717.8 817.3,717.8" fill="#262626"/><line x1="725.3" y1="545.0" x2="819.0" y2="545.0" stroke="#262626" stroke-width="1"/><line x1="772.7" y1="725.3" x2="819.0" y2="725.3" stroke="#262626" stroke-width="1"/><text transform="translate(762.0,812.0) rotate(-17)" x="0" y="0" font-family="Liberation Serif" font-size="12.0" fill="#262626" stroke="#262626" stroke-width="0.3" textLength="62.0" lengthAdjust="spacingAndGlyphs">盘径≥ϕ200</text><line x1="724.0" y1="828.3" x2="859.0" y2="779.8" stroke="#262626" stroke-width="1"/><polygon points="859.0,779.8 854.8,782.9 853.8,780.1" fill="#262626"/></svg>

<div class="t h1" style="left:14px;top:26px;">QP12.7–C<span>型外形尺寸</span></div>
<div class="t " style="left:600px;top:15px;font-size:11px;font-weight:500;-webkit-text-stroke:0.4px #333;letter-spacing:0.85px;color:#333">气包带自动补偿机构，制动衬垫磨损后无需人工调整，方便省时。</div>
<div class="t h1" style="left:20px;top:333px;">QP12.7–C<span>技术参数</span></div>
<div class="t h1" style="left:15px;top:508px;">QPL(CQPL)12.7A<span>型外形尺寸</span></div>
<div class="t h1" style="left:29px;top:816px;">QPL12.7A<span>型技术参数</span></div>
<div class="t h1" style="left:25px;top:1015px;">CQPL12.7A<span>型技术参数</span></div>
<div class="t " style="left:20px;top:1208px;font-size:11px;font-weight:500;-webkit-text-stroke:0.4px #333;color:#333">注：具体型号，结构外形尺寸保留更改的权利。</div>
<div class="bg" style="left:11.4px;top:374px;width:962.4px;height:54px;background:#c6c6c6"></div>
<div class="c hd1" style="left:11.4px;top:374px;width:127.5px;height:54px;padding-bottom:4px;box-sizing:border-box;padding-left:1px"><div><span style="letter-spacing:0">型</span><span style="margin-left:20px;letter-spacing:0">号</span></div></div>
<div class="c hd1" style="left:138.9px;top:374px;width:147.4px;height:54px;padding-left:10px;box-sizing:border-box"><div>额定制动力（<span class=nb>N</span>）<br>（&nbsp;八根弹簧&nbsp;）</div></div>
<div class="c hd1" style="left:286.3px;top:374px;width:157.09999999999997px;height:54px;padding-left:0px;box-sizing:border-box"><div>制动盘有效半径<br>（<span class=nb>m</span>）</div></div>
<div class="c hd1" style="left:443.4px;top:374px;width:133.5px;height:54px;padding-left:0px;box-sizing:border-box"><div>制动力矩<br>（<span class=nb>N.m</span>）</div></div>
<div class="c hd1" style="left:576.9px;top:374px;width:131.70000000000005px;height:54px;padding-left:0px;box-sizing:border-box"><div><span class=tight>工作气体容量</span><br>（<span class=nb>cm<sup>3</sup></span>）</div></div>
<div class="c hd1" style="left:708.6px;top:374px;width:132.89999999999998px;height:54px;padding-left:0px;box-sizing:border-box"><div>总气体容量<br>（<span class=nb>cm<sup>3</sup></span>）</div></div>
<div class="c hd1" style="left:841.5px;top:374px;width:132.29999999999995px;height:54px;padding-left:5px;box-sizing:border-box"><div>重量<br>（<span class=nb>kg</span>）</div></div>
<div class="c d1" style="left:11.4px;top:428px;width:127.5px;height:55px;"><div><span style="margin-left:6px">QP12.7–C</span></div></div>
<div class="c d1" style="left:138.9px;top:428px;width:147.4px;height:55px;"><div>6400</div></div>
<div class="c d1" style="left:286.3px;top:428px;width:157.09999999999997px;height:55px;"><div><span class="cj">制动盘半径</span>–0.03</div></div>
<div class="c d1" style="left:443.4px;top:428px;width:133.5px;height:55px;"><div><span class=cj2>额定制动力&nbsp;<span class=xx>×</span><br>有效半径</span></div></div>
<div class="c d1" style="left:576.9px;top:428px;width:131.70000000000005px;height:55px;"><div>273</div></div>
<div class="c d1" style="left:708.6px;top:428px;width:132.89999999999998px;height:55px;"><div>553</div></div>
<div class="c d1" style="left:841.5px;top:428px;width:132.29999999999995px;height:55px;"><div>25</div></div>
<div class="ln" style="left:10.4px;top:373.1px;width:964.4px;height:1.8px;background:#6a6a6a;"></div>
<div class="ln" style="left:10.4px;top:427.1px;width:964.4px;height:1.8px;background:#454545;"></div>
<div class="ln" style="left:10.4px;top:482.1px;width:964.4px;height:1.8px;background:#747474;"></div>
<div class="ln" style="left:10.55px;top:373px;width:1.7px;height:55px;background:#484848;"></div>
<div class="ln" style="left:10.55px;top:428px;width:1.7px;height:56px;background:#6e6e6e;"></div>
<div class="ln" style="left:138.05px;top:373px;width:1.7px;height:55px;background:#484848;"></div>
<div class="ln" style="left:138.05px;top:428px;width:1.7px;height:56px;background:#6e6e6e;"></div>
<div class="ln" style="left:285.45px;top:373px;width:1.7px;height:55px;background:#484848;"></div>
<div class="ln" style="left:285.45px;top:428px;width:1.7px;height:56px;background:#6e6e6e;"></div>
<div class="ln" style="left:442.54999999999995px;top:373px;width:1.7px;height:55px;background:#484848;"></div>
<div class="ln" style="left:442.54999999999995px;top:428px;width:1.7px;height:56px;background:#6e6e6e;"></div>
<div class="ln" style="left:576.05px;top:373px;width:1.7px;height:55px;background:#484848;"></div>
<div class="ln" style="left:576.05px;top:428px;width:1.7px;height:56px;background:#6e6e6e;"></div>
<div class="ln" style="left:707.75px;top:373px;width:1.7px;height:55px;background:#484848;"></div>
<div class="ln" style="left:707.75px;top:428px;width:1.7px;height:56px;background:#6e6e6e;"></div>
<div class="ln" style="left:840.65px;top:373px;width:1.7px;height:55px;background:#484848;"></div>
<div class="ln" style="left:840.65px;top:428px;width:1.7px;height:56px;background:#6e6e6e;"></div>
<div class="ln" style="left:972.9499999999999px;top:373px;width:1.7px;height:55px;background:#484848;"></div>
<div class="ln" style="left:972.9499999999999px;top:428px;width:1.7px;height:56px;background:#6e6e6e;"></div>
<div class="bg" style="left:17.8px;top:855.5px;width:949.5px;height:59.0px;background:#c6c6c6"></div>
<div class="bg" style="left:17.8px;top:959.5px;width:949.5px;height:45.0px;background:#c6c6c6"></div>
<div class="c hd2" style="left:17.8px;top:855.5px;width:124.89999999999999px;height:59.0px;padding-top:2px;box-sizing:border-box;padding-left:2px"><div><span style="letter-spacing:0">型</span><span style="margin-left:26px;letter-spacing:0">号</span></div></div>
<div class="c hd2" style="left:142.7px;top:855.5px;width:145.60000000000002px;height:59.0px;padding-left:12px;padding-top:3px;box-sizing:border-box"><div>额定制动力（<span class=nb>N</span>）<br>（&nbsp;八根弹簧&nbsp;）</div></div>
<div class="c hd2" style="left:288.3px;top:855.5px;width:155.7px;height:59.0px;padding-left:3px;padding-top:3px;box-sizing:border-box"><div>制动盘有效半径<br>（<span class=nb>m</span>）</div></div>
<div class="c hd2" style="left:444px;top:855.5px;width:131.5px;height:59.0px;padding-left:3px;padding-top:3px;box-sizing:border-box"><div>制动力矩<br>（<span class=nb>N.m</span>）</div></div>
<div class="c hd2" style="left:575.5px;top:855.5px;width:129.5px;height:59.0px;padding-left:3px;padding-top:3px;box-sizing:border-box"><div><span class=tight>工作气体容量</span><br>（<span class=nb>cm<sup>3</sup></span>）</div></div>
<div class="c hd2" style="left:705px;top:855.5px;width:131.5px;height:59.0px;padding-left:3px;padding-top:3px;box-sizing:border-box"><div>总气体容量<br>（<span class=nb>cm<sup>3</sup></span>）</div></div>
<div class="c hd2" style="left:836.5px;top:855.5px;width:130.79999999999995px;height:59.0px;padding-left:7px;padding-top:3px;box-sizing:border-box"><div>重量<br>（<span class=nb>kg</span>）</div></div>
<div class="c d2" style="left:17.8px;top:914.5px;width:124.89999999999999px;height:45.0px;"><div>QPL12.7A–A</div></div>
<div class="c d2" style="left:142.7px;top:914.5px;width:145.60000000000002px;height:45.0px;"><div>6400</div></div>
<div class="c d2" style="left:575.5px;top:914.5px;width:129.5px;height:45.0px;"><div>273</div></div>
<div class="c d2" style="left:705px;top:914.5px;width:131.5px;height:45.0px;"><div>553</div></div>
<div class="c d2" style="left:836.5px;top:914.5px;width:130.79999999999995px;height:45.0px;"><div>24</div></div>
<div class="c d2" style="left:17.8px;top:959.5px;width:124.89999999999999px;height:45.0px;"><div>QPL12.7A–B</div></div>
<div class="c d2" style="left:142.7px;top:959.5px;width:145.60000000000002px;height:45.0px;"><div>4800</div></div>
<div class="c d2" style="left:575.5px;top:959.5px;width:129.5px;height:45.0px;"><div>140</div></div>
<div class="c d2" style="left:705px;top:959.5px;width:131.5px;height:45.0px;"><div>293</div></div>
<div class="c d2" style="left:836.5px;top:959.5px;width:130.79999999999995px;height:45.0px;"><div>20</div></div>
<div class="c d2" style="left:288.3px;top:914.5px;width:155.7px;height:90.0px;"><div><span class="cj">制动盘半径</span>–0.03</div></div>
<div class="c d2" style="left:444px;top:914.5px;width:131.5px;height:90.0px;"><div><span class=cj2>额定制动力&nbsp;<span class=xx>×</span><br>有效半径</span></div></div>
<div class="ln" style="left:16.8px;top:854.6px;width:951.5px;height:1.8px;background:#5a5a5a;"></div>
<div class="ln" style="left:16.8px;top:913.6px;width:951.5px;height:1.8px;background:#4a4a4a;"></div>
<div class="ln" style="left:16.8px;top:1003.6px;width:951.5px;height:1.8px;background:#5e5e5e;"></div>
<div class="ln" style="left:17.8px;top:958.6px;width:270.5px;height:1.8px;background:#555;"></div>
<div class="ln" style="left:575.5px;top:958.6px;width:391.79999999999995px;height:1.8px;background:#555;"></div>
<div class="ln" style="left:16.95px;top:854.5px;width:1.7px;height:151.0px;background:#595959;"></div>
<div class="ln" style="left:141.85px;top:854.5px;width:1.7px;height:151.0px;background:#595959;"></div>
<div class="ln" style="left:287.45px;top:854.5px;width:1.7px;height:151.0px;background:#595959;"></div>
<div class="ln" style="left:443.15px;top:854.5px;width:1.7px;height:151.0px;background:#595959;"></div>
<div class="ln" style="left:574.65px;top:854.5px;width:1.7px;height:151.0px;background:#595959;"></div>
<div class="ln" style="left:704.15px;top:854.5px;width:1.7px;height:151.0px;background:#595959;"></div>
<div class="ln" style="left:835.65px;top:854.5px;width:1.7px;height:151.0px;background:#595959;"></div>
<div class="ln" style="left:966.4499999999999px;top:854.5px;width:1.7px;height:151.0px;background:#595959;"></div>
<div class="bg" style="left:17.8px;top:1054px;width:949.5px;height:58.59999999999991px;background:#c6c6c6"></div>
<div class="bg" style="left:17.8px;top:1157.3px;width:949.5px;height:44.700000000000045px;background:#c6c6c6"></div>
<div class="c hd2" style="left:17.8px;top:1054px;width:124.89999999999999px;height:58.59999999999991px;padding-top:2px;box-sizing:border-box;padding-left:2px"><div><span style="letter-spacing:0">型</span><span style="margin-left:26px;letter-spacing:0">号</span></div></div>
<div class="c hd2" style="left:142.7px;top:1054px;width:145.60000000000002px;height:58.59999999999991px;padding-left:12px;padding-top:3px;box-sizing:border-box"><div>额定制动力（<span class=nb>N</span>）<br>（&nbsp;八根弹簧&nbsp;）</div></div>
<div class="c hd2" style="left:288.3px;top:1054px;width:155.7px;height:58.59999999999991px;padding-left:3px;padding-top:3px;box-sizing:border-box"><div>制动盘有效半径<br>（<span class=nb>m</span>）</div></div>
<div class="c hd2" style="left:444px;top:1054px;width:131.5px;height:58.59999999999991px;padding-left:3px;padding-top:3px;box-sizing:border-box"><div>制动力矩<br>（<span class=nb>N.m</span>）</div></div>
<div class="c hd2" style="left:575.5px;top:1054px;width:129.5px;height:58.59999999999991px;padding-left:3px;padding-top:3px;box-sizing:border-box"><div><span class=tight>工作气体容量</span><br>（<span class=nb>cm<sup>3</sup></span>）</div></div>
<div class="c hd2" style="left:705px;top:1054px;width:131.5px;height:58.59999999999991px;padding-left:3px;padding-top:3px;box-sizing:border-box"><div>总气体容量<br>（<span class=nb>cm<sup>3</sup></span>）</div></div>
<div class="c hd2" style="left:836.5px;top:1054px;width:130.79999999999995px;height:58.59999999999991px;padding-left:7px;padding-top:3px;box-sizing:border-box"><div>重量<br>（<span class=nb>kg</span>）</div></div>
<div class="c d2" style="left:17.8px;top:1112.6px;width:124.89999999999999px;height:44.700000000000045px;"><div>CQPL12.7A–A</div></div>
<div class="c d2" style="left:142.7px;top:1112.6px;width:145.60000000000002px;height:44.700000000000045px;"><div>1788× <span class=cj>工作气压</span></div></div>
<div class="c d2" style="left:575.5px;top:1112.6px;width:129.5px;height:44.700000000000045px;"><div>273</div></div>
<div class="c d2" style="left:705px;top:1112.6px;width:131.5px;height:44.700000000000045px;"><div>553</div></div>
<div class="c d2" style="left:836.5px;top:1112.6px;width:130.79999999999995px;height:44.700000000000045px;"><div>23</div></div>
<div class="c d2" style="left:17.8px;top:1157.3px;width:124.89999999999999px;height:44.700000000000045px;"><div>CQPL12.7A–B</div></div>
<div class="c d2" style="left:142.7px;top:1157.3px;width:145.60000000000002px;height:44.700000000000045px;"><div>1055× <span class=cj>工作气压</span></div></div>
<div class="c d2" style="left:575.5px;top:1157.3px;width:129.5px;height:44.700000000000045px;"><div>140</div></div>
<div class="c d2" style="left:705px;top:1157.3px;width:131.5px;height:44.700000000000045px;"><div>293</div></div>
<div class="c d2" style="left:836.5px;top:1157.3px;width:130.79999999999995px;height:44.700000000000045px;"><div>19</div></div>
<div class="c d2" style="left:288.3px;top:1112.6px;width:155.7px;height:89.40000000000009px;"><div><span class="cj">制动盘半径</span>–0.03</div></div>
<div class="c d2" style="left:444px;top:1112.6px;width:131.5px;height:89.40000000000009px;"><div><span class=cj2>额定制动力&nbsp;<span class=xx>×</span><br>有效半径</span></div></div>
<div class="ln" style="left:16.8px;top:1053.1px;width:951.5px;height:1.8px;background:#5a5a5a;"></div>
<div class="ln" style="left:16.8px;top:1111.6999999999998px;width:951.5px;height:1.8px;background:#4a4a4a;"></div>
<div class="ln" style="left:16.8px;top:1201.1px;width:951.5px;height:1.8px;background:#5e5e5e;"></div>
<div class="ln" style="left:17.8px;top:1156.3999999999999px;width:270.5px;height:1.8px;background:#555;"></div>
<div class="ln" style="left:575.5px;top:1156.3999999999999px;width:391.79999999999995px;height:1.8px;background:#555;"></div>
<div class="ln" style="left:16.95px;top:1053px;width:1.7px;height:150px;background:#595959;"></div>
<div class="ln" style="left:141.85px;top:1053px;width:1.7px;height:150px;background:#595959;"></div>
<div class="ln" style="left:287.45px;top:1053px;width:1.7px;height:150px;background:#595959;"></div>
<div class="ln" style="left:443.15px;top:1053px;width:1.7px;height:150px;background:#595959;"></div>
<div class="ln" style="left:574.65px;top:1053px;width:1.7px;height:150px;background:#595959;"></div>
<div class="ln" style="left:704.15px;top:1053px;width:1.7px;height:150px;background:#595959;"></div>
<div class="ln" style="left:835.65px;top:1053px;width:1.7px;height:150px;background:#595959;"></div>
<div class="ln" style="left:966.4499999999999px;top:1053px;width:1.7px;height:150px;background:#595959;"></div>
</body></html>
